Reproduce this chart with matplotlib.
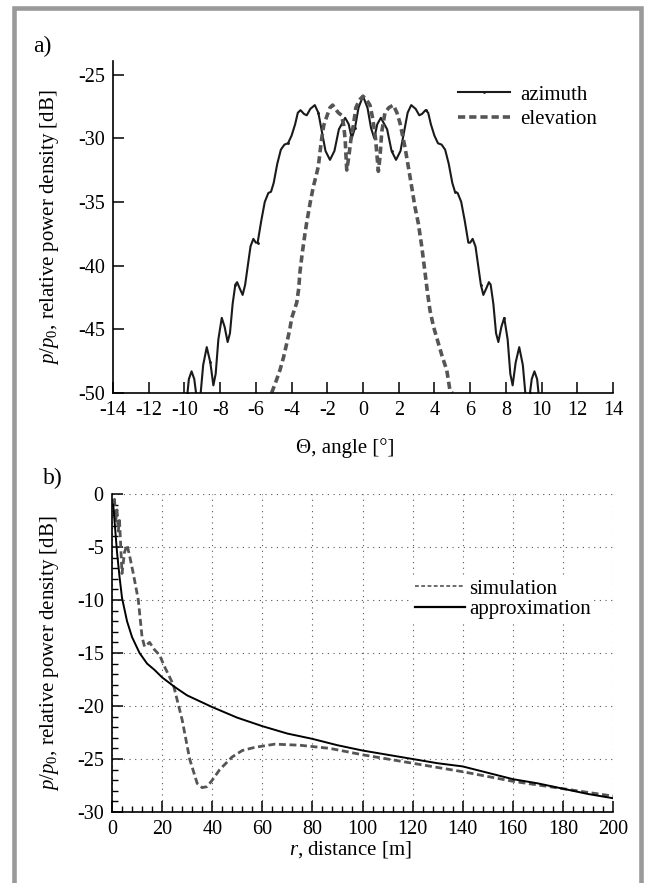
import matplotlib
matplotlib.use("Agg")
import matplotlib.pyplot as plt
from matplotlib.patches import Rectangle
from matplotlib.lines import Line2D
from matplotlib.ticker import MultipleLocator, AutoMinorLocator

plt.rcParams['font.family'] = ['Liberation Serif', 'DejaVu Serif']
plt.rcParams['mathtext.fontset'] = 'custom'
plt.rcParams['mathtext.rm'] = 'Liberation Serif'
plt.rcParams['mathtext.it'] = 'Liberation Serif:italic'
plt.rcParams['axes.unicode_minus'] = False

# --- panel a: radiation pattern ---
az_deg = [-9.83, -9.75, -9.6, -9.45, -9.35, -9.22, -9.09, -8.95, -8.75, -8.55, -8.38,
          -8.25, -8.1, -7.91, -7.75, -7.58, -7.45, -7.3, -7.15, -7.05, -6.9, -6.74,
          -6.6, -6.45, -6.3, -6.14, -6.0, -5.9, -5.7, -5.5, -5.3, -5.15, -5.0, -4.8,
          -4.6, -4.4, -4.2, -4.0, -3.8, -3.65, -3.5, -3.3, -3.15, -2.95, -2.7, -2.5,
          -2.3, -2.1, -1.85, -1.6, -1.35, -1.0, -0.8, -0.63, -0.45, -0.25, 0.0,
          0.25, 0.45, 0.63, 0.8, 1.0, 1.35, 1.6, 1.85, 2.1, 2.3, 2.5, 2.7, 2.95,
          3.15, 3.3, 3.5, 3.65, 3.8, 4.0, 4.2, 4.4, 4.6, 4.8, 5.0, 5.15, 5.3, 5.5,
          5.7, 5.9, 6.0, 6.14, 6.3, 6.45, 6.6, 6.74, 6.9, 7.05, 7.15, 7.3, 7.45,
          7.58, 7.75, 7.91, 8.1, 8.25, 8.38, 8.55, 8.75, 8.95, 9.09, 9.22, 9.35,
          9.45, 9.6, 9.75, 9.83]
az_db = [-50, -48.9, -48.3, -48.9, -50, -51.5, -50, -47.8, -46.4, -47.6, -49.4,
         -48.5, -45.8, -44.1, -44.8, -46.0, -45.3, -43.0, -41.5, -41.3, -41.8, -42.3,
         -41.5, -40.0, -38.5, -37.9, -38.2, -38.2, -36.5, -35.0, -34.3, -34.2, -33.5, -32.0,
         -30.9, -30.5, -30.4, -29.8, -28.9, -28.0, -27.8, -28.1, -28.2, -27.7, -27.4, -28.0,
         -29.5, -31.0, -31.7, -31.0, -29.3, -28.4, -28.9, -30.0, -29.2, -27.6, -26.7,
         -27.6, -29.2, -30.0, -28.9, -28.4, -29.3, -31.0, -31.7, -31.0, -29.5, -28.0, -27.4, -27.7,
         -28.2, -28.1, -27.8, -28.0, -28.9, -29.8, -30.4, -30.5, -30.9, -32.0, -33.5, -34.2, -34.3, -35.0,
         -36.5, -38.2, -38.2, -37.9, -38.5, -40.0, -41.5, -42.3, -41.8, -41.3, -41.5, -43.0, -45.3,
         -46.0, -44.8, -44.1, -45.8, -48.5, -49.4, -47.6, -46.4, -47.8, -50, -51.5, -50,
         -48.9, -48.3, -48.9, -50]

el_deg = [-5.12, -4.9, -4.65, -4.45, -4.27, -4.1, -3.99, -3.85, -3.71, -3.6, -3.53,
          -3.4, -3.25, -3.15, -2.95, -2.78, -2.6, -2.5, -2.4, -2.31, -2.2, -2.03,
          -1.85, -1.7, -1.55, -1.38, -1.2, -1.08, -1.0, -0.91, -0.8, -0.65, -0.54,
          -0.4, -0.2, 0.0, 0.2, 0.39, 0.55, 0.7, 0.86, 0.95, 1.05, 1.23, 1.45, 1.7,
          1.9, 2.07, 2.35, 2.63, 2.91, 3.1, 3.29, 3.47, 3.6, 3.75, 3.95, 4.22, 4.45,
          4.69, 4.87, 5.0]
el_db = [-50, -49.2, -48.2, -47.2, -46.1, -45.0, -44.1, -43.5, -42.9, -41.8, -40.5,
         -39.0, -37.5, -36.6, -35.0, -33.8, -32.8, -32.2, -31.0, -30.0, -29.0, -28.3,
         -27.6, -27.4, -27.7, -28.0, -28.2, -29.0, -30.1, -32.5, -31.5, -29.8, -29.0,
         -27.6, -27.0, -26.7, -27.0, -27.4, -28.5, -30.0, -32.6, -31.5, -29.5, -28.0, -27.6, -27.4,
         -28.0, -28.8, -30.7, -33.0, -35.4, -36.7, -38.5, -40.5, -42.0, -43.5, -44.8, -46.1, -47.2,
         -48.2, -49.8, -50]

# --- panel b: power density vs distance ---
sim_r = [0, 0.5, 1, 1.5, 2, 2.5, 3, 3.5, 4, 4.5, 5, 6, 7, 8.5, 10.5, 12, 13, 15, 17, 19,
         21, 24.5, 28, 31, 34, 36, 38, 40, 43, 48, 52, 57, 65, 75, 87, 100, 120, 140,
         160, 180, 200]
sim_db = [-0.5, -1.0, -0.5, -2.5, -1.5, -3.5, -2.5, -5.0, -7.5, -6.5, -5.5, -4.8, -5.8,
          -7.5, -10.0, -13.5, -14.4, -14.0, -14.7, -15.2, -16.3, -18.0, -21.3, -25.0,
          -27.3, -27.7, -27.6, -27.0, -26.0, -24.8, -24.2, -23.9, -23.6, -23.7, -24.0,
          -24.6, -25.4, -26.2, -27.1, -27.8, -28.5]

apx_r = [0.5, 1, 2, 3, 4, 6, 8, 11, 14, 17, 20, 25, 30, 40, 50, 60, 70, 80, 90, 100,
         110, 120, 130, 140, 150, 160, 170, 180, 190, 200]
apx_db = [-1.0, -2.5, -5.5, -7.8, -9.8, -12.0, -13.5, -15.0, -16.0, -16.6, -17.3, -18.2,
          -19.0, -20.1, -21.1, -21.9, -22.6, -23.1, -23.7, -24.2, -24.6, -25.0, -25.4,
          -25.7, -26.3, -26.9, -27.3, -27.8, -28.3, -28.7]

W, H = 646, 883
fig = plt.figure(figsize=(W / 100, H / 100), dpi=100)

def frac_x(px):
    return px / W

def frac_y(py):
    return 1 - py / H

# grey frame around the whole figure (bottom edge cut off)
fig.patches.append(Rectangle((frac_x(14), -0.05), frac_x(641 - 14), frac_y(8) + 0.05,
                             transform=fig.transFigure, fill=False,
                             edgecolor='#9a9a9a', linewidth=3.3))

TICK = 14.5
LAB = 15

# panel a
ax1 = fig.add_axes([frac_x(113), frac_y(393), frac_x(500), (393 - 60.5) / H])
ax1.plot(az_deg, az_db, color='#1a1a1a', lw=1.5, marker='.', ms=2, markevery=9,
         label='azimuth')
ax1.plot(el_deg, el_db, color='#555555', lw=2.6, dashes=(2, 1.1), label='elevation')
ax1.set_xlim(-14, 14)
ax1.set_ylim(-50, -23.9)
ax1.xaxis.set_major_locator(MultipleLocator(2))
ax1.yaxis.set_major_locator(MultipleLocator(5))
ax1.spines['top'].set_visible(False)
ax1.spines['right'].set_visible(False)
for s in ('left', 'bottom'):
    ax1.spines[s].set_linewidth(1.2)
ax1.tick_params(direction='in', length=8, width=1.1, labelsize=TICK, pad=6)
ax1.legend(loc='upper left', bbox_to_anchor=((458 - 113) / 500, (393 - 85) / 332.5),
           frameon=False, fontsize=LAB, handlelength=2.5, handletextpad=0.5,
           borderpad=0, borderaxespad=0, labelspacing=0.25)

fig.text(frac_x(33), frac_y(52), 'a)', fontsize=17, ha='left', va='baseline')
fig.text(frac_x(50), frac_y(227), '$p/p_0$, relative power density [dB]',
         rotation=90, ha='center', va='center', fontsize=LAB)
fig.text(frac_x(345), frac_y(448), '\u0398, angle [\u00b0]', ha='center', va='center',
         fontsize=LAB)

# panel b
ax2 = fig.add_axes([frac_x(112), frac_y(812), frac_x(501), (812 - 494) / H])
ax2.plot(sim_r, sim_db, color='#555555', lw=2.0, dashes=(2.5, 1.3))
ax2.plot(apx_r, apx_db, color='black', lw=1.4)
ax2.set_xlim(0, 200)
ax2.set_ylim(-30, 0)
ax2.xaxis.set_major_locator(MultipleLocator(20))
ax2.yaxis.set_major_locator(MultipleLocator(5))
ax2.xaxis.set_minor_locator(AutoMinorLocator(5))
ax2.yaxis.set_minor_locator(AutoMinorLocator(5))
ax2.spines['top'].set_visible(False)
ax2.spines['right'].set_visible(False)
for s in ('left', 'bottom'):
    ax2.spines[s].set_linewidth(1.2)
ax2.grid(True, which='major', color='#555555', lw=0.8, linestyle=(0, (1, 4.1)))
ax2.set_axisbelow(True)
ax2.tick_params(which='major', direction='in', length=8, width=1.1, labelsize=TICK, pad=6)
ax2.tick_params(which='minor', direction='in', length=4, width=1.0)

# legend handles drawn thinner than the curves, as in the original
sim_handle = Line2D([], [], color='#444444', lw=1.1, dashes=(2.5, 1.6))
apx_handle = Line2D([], [], color='black', lw=1.6)
leg = ax2.legend([sim_handle, apx_handle], ['simulation', 'approximation'],
                 loc='upper left', bbox_to_anchor=((413 - 112) / 501, (812 - 577) / 318),
                 frameon=True, fontsize=LAB, handlelength=2.4, handletextpad=0.2,
                 borderpad=0.1, borderaxespad=0, labelspacing=0.05, fancybox=False)
leg.get_frame().set_facecolor('white')
leg.get_frame().set_edgecolor('none')
leg.get_frame().set_alpha(1)

fig.text(frac_x(43), frac_y(484), 'b)', fontsize=17, ha='left', va='baseline')
fig.text(frac_x(50), frac_y(653), '$p/p_0$, relative power density [dB]',
         rotation=90, ha='center', va='center', fontsize=LAB)
fig.text(frac_x(350), frac_y(850), '$r$, distance [m]', ha='center', va='center',
         fontsize=LAB)

fig.savefig('out.png', dpi=100)
